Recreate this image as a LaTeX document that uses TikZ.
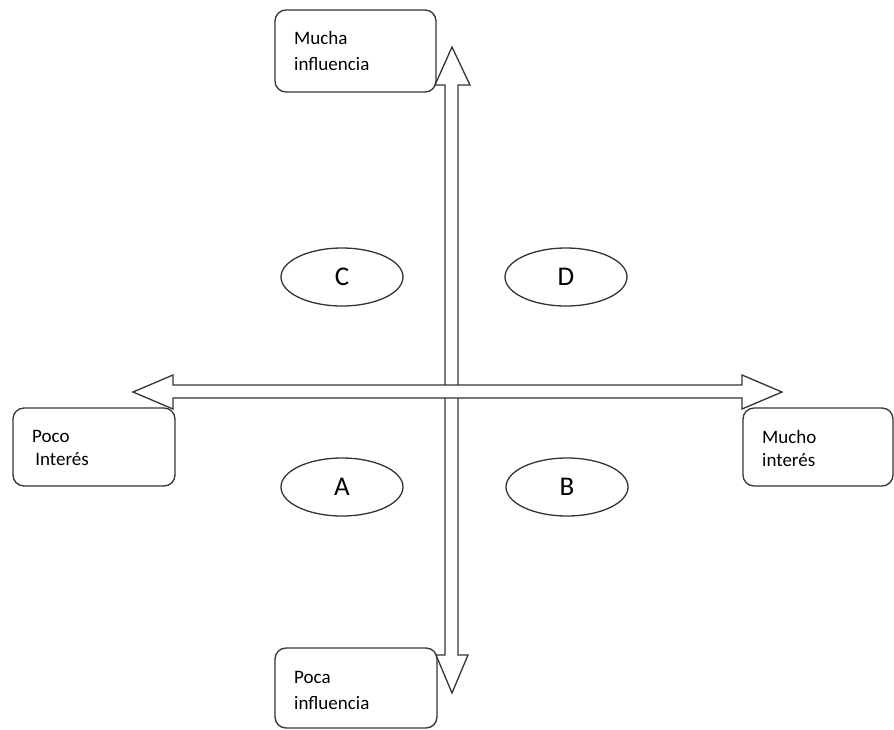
\documentclass[tikz,border=0pt]{standalone}
\usepackage{fontspec}
\setmainfont{Carlito}
\usetikzlibrary{shapes.geometric}
\definecolor{ink}{HTML}{333333}
\tikzset{
  lbl/.style={draw=ink, line width=1.3pt, rounded corners=11pt, inner sep=0pt},
  lbltext/.style={anchor=west, inner sep=0pt, font=\fontsize{19}{22}\selectfont, text=black, align=left},
  oval/.style={draw=ink, line width=1.3pt, ellipse, minimum width=122pt, minimum height=58pt, inner sep=0pt, font=\fontsize{27}{29}\selectfont},
  blockarrow/.style={draw=ink, fill=white, line width=1.3pt, line join=miter},
}
\begin{document}
\begin{tikzpicture}[x=1pt,y=-1pt]
\useasboundingbox (0,0) rectangle (894,729);
\clip (0,0) rectangle (894,729);
% label boxes
\node[lbl, minimum width=161pt, minimum height=82pt] (mi) at (355.5,51) {};
\node[lbltext] (mit) at (294,51) {Mucha\\[4pt]influencia};
\node[lbl, minimum width=162pt, minimum height=78pt] (pi) at (94,447) {};
\node[lbltext] (pit) at (32,448) {Poco\\[1pt]\,Interés};
\node[lbl, minimum width=150pt, minimum height=78pt] (mu) at (818,447) {};
\node[lbltext] (mut) at (762,448) {Mucho\\[1pt]interés};
\node[lbl, minimum width=162pt, minimum height=80pt] (pa) at (356,688) {};
\node[lbltext] (pat) at (294,690) {Poca\\[4pt]influencia};
% vertical double block arrow
\coordinate (vt) at (452,47);
\coordinate (vb) at (452,693);
\draw[blockarrow] (vt) -- (470,85) -- (458,85) -- (458,655) -- (468,655) -- (vb)
  -- (436,655) -- (445,655) -- (445,85) -- (435,85) -- cycle;
% horizontal double block arrow
\coordinate (hl) at (133,392);
\coordinate (hr) at (782,392);
\draw[blockarrow] (hl) -- (173,375) -- (173,385) -- (742,385) -- (742,375) -- (hr)
  -- (742,409) -- (742,398) -- (173,398) -- (173,409) -- cycle;
% quadrant ovals
\node[oval] (c) at (342,277) {C};
\node[oval] (d) at (566,277) {D};
\node[oval] (a) at (342,487) {A};
\node[oval] (b) at (567,487) {B};
\end{tikzpicture}
\end{document}
